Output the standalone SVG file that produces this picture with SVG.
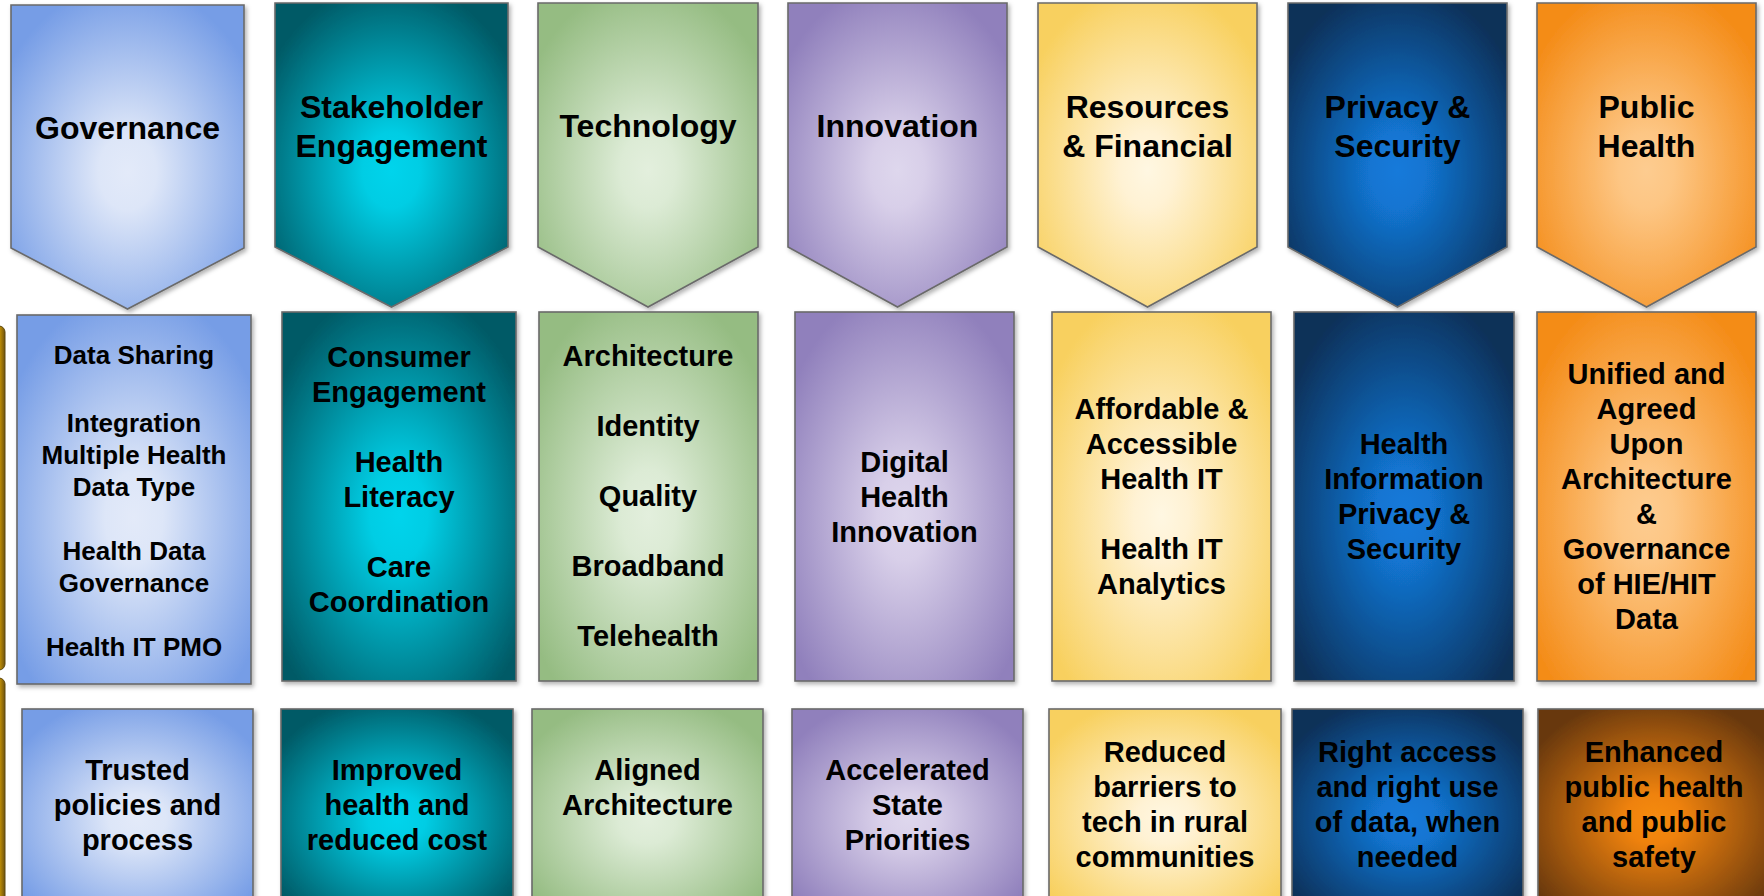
<svg xmlns="http://www.w3.org/2000/svg" width="1764" height="896" viewBox="0 0 1764 896">
<style>
.sh{stroke:#6a6a6a;stroke-width:1.6;filter:url(#shd)}
text{font-family:"Liberation Sans",Arial,sans-serif;font-weight:bold;fill:#000;text-anchor:middle}
.h{font-size:32px}
.t{font-size:29px}
.s{font-size:26px}
</style>
<defs>
<filter id="shd" x="-10%" y="-10%" width="125%" height="125%">
<feDropShadow dx="2" dy="2.5" stdDeviation="2" flood-color="#000" flood-opacity="0.3"/>
</filter>
<radialGradient id="gGov" cx="0.5" cy="0.55" r="0.62"><stop offset="0" stop-color="#e3eaf9"/><stop offset="0.2" stop-color="#dde6f8"/><stop offset="1" stop-color="#769de6"/></radialGradient>
<radialGradient id="gSta" cx="0.5" cy="0.55" r="0.62"><stop offset="0" stop-color="#00d4ec"/><stop offset="0.2" stop-color="#00cde4"/><stop offset="1" stop-color="#005a66"/></radialGradient>
<radialGradient id="gTec" cx="0.5" cy="0.55" r="0.62"><stop offset="0" stop-color="#e3efdd"/><stop offset="0.2" stop-color="#dcebd5"/><stop offset="1" stop-color="#95bc82"/></radialGradient>
<radialGradient id="gInn" cx="0.5" cy="0.55" r="0.62"><stop offset="0" stop-color="#ded7ed"/><stop offset="0.2" stop-color="#d8cfe9"/><stop offset="1" stop-color="#9080bc"/></radialGradient>
<radialGradient id="gRes" cx="0.5" cy="0.55" r="0.62"><stop offset="0" stop-color="#fff7e2"/><stop offset="0.2" stop-color="#fff2d4"/><stop offset="1" stop-color="#f8d05e"/></radialGradient>
<radialGradient id="gPri" cx="0.5" cy="0.55" r="0.62"><stop offset="0" stop-color="#157ada"/><stop offset="0.2" stop-color="#1275d2"/><stop offset="1" stop-color="#0b3058"/></radialGradient>
<radialGradient id="gPub" cx="0.5" cy="0.55" r="0.62"><stop offset="0" stop-color="#fdcc90"/><stop offset="0.2" stop-color="#fdc684"/><stop offset="1" stop-color="#f48c18"/></radialGradient>
<radialGradient id="gEnh" cx="0.5" cy="0.55" r="0.62"><stop offset="0" stop-color="#f58b12"/><stop offset="0.2" stop-color="#ef820f"/><stop offset="1" stop-color="#683808"/></radialGradient>
<linearGradient id="gGold" x1="0" y1="0" x2="1" y2="0"><stop offset="0" stop-color="#7a5a0c"/><stop offset="0.55" stop-color="#f2b400"/><stop offset="1" stop-color="#6e520e"/></linearGradient>
</defs>
<rect width="1764" height="896" fill="#fff"/>

<g id="side-bars">
<rect x="-14" y="326" width="19" height="344" rx="6" fill="url(#gGold)" stroke="#5e4a10" stroke-width="1"/>
<rect x="-14" y="678" width="19" height="240" rx="6" fill="url(#gGold)" stroke="#5e4a10" stroke-width="1"/>
</g>

<g id="connectors"></g>

<!-- Row 1 chevrons -->
<g id="hdr-governance">
<path class="sh" d="M11,5 H244 V248 L127.5,309 L11,248 Z" fill="url(#gGov)"/>
<text class="h" x="127.5" y="139">Governance</text>
</g>
<g id="hdr-stakeholder">
<path class="sh" d="M275,3 H508 V247 L391.5,307 L275,247 Z" fill="url(#gSta)"/>
<text class="h" x="391.5" y="118">Stakeholder</text>
<text class="h" x="391.5" y="157">Engagement</text>
</g>
<g id="hdr-technology">
<path class="sh" d="M538,3 H758 V247 L648,307 L538,247 Z" fill="url(#gTec)"/>
<text class="h" x="648" y="137">Technology</text>
</g>
<g id="hdr-innovation">
<path class="sh" d="M788,3 H1007 V247 L897.5,307 L788,247 Z" fill="url(#gInn)"/>
<text class="h" x="897.5" y="137">Innovation</text>
</g>
<g id="hdr-resources">
<path class="sh" d="M1038,3 H1257 V247 L1147.5,307 L1038,247 Z" fill="url(#gRes)"/>
<text class="h" x="1147.5" y="118">Resources</text>
<text class="h" x="1147.5" y="157">&amp; Financial</text>
</g>
<g id="hdr-privacy">
<path class="sh" d="M1288,3 H1507 V247 L1397.5,307 L1288,247 Z" fill="url(#gPri)"/>
<text class="h" x="1397.5" y="118">Privacy &amp;</text>
<text class="h" x="1397.5" y="157">Security</text>
</g>
<g id="hdr-public-health">
<path class="sh" d="M1537,3 H1756 V247 L1646.5,307 L1537,247 Z" fill="url(#gPub)"/>
<text class="h" x="1646.5" y="118">Public</text>
<text class="h" x="1646.5" y="157">Health</text>
</g>

<!-- Row 2 boxes -->
<g id="box-governance">
<rect class="sh" x="17" y="315" width="234" height="369" fill="url(#gGov)"/>
<text class="s" x="134" y="364">Data Sharing</text>
<text class="s" x="134" y="432">Integration</text>
<text class="s" x="134" y="464">Multiple Health</text>
<text class="s" x="134" y="496">Data Type</text>
<text class="s" x="134" y="560">Health Data</text>
<text class="s" x="134" y="592">Governance</text>
<text class="s" x="134" y="656">Health IT PMO</text>
</g>
<g id="box-stakeholder">
<rect class="sh" x="282" y="312" width="234" height="369" fill="url(#gSta)"/>
<text class="t" x="399" y="367">Consumer</text>
<text class="t" x="399" y="402">Engagement</text>
<text class="t" x="399" y="472">Health</text>
<text class="t" x="399" y="507">Literacy</text>
<text class="t" x="399" y="577">Care</text>
<text class="t" x="399" y="612">Coordination</text>
</g>
<g id="box-technology">
<rect class="sh" x="539" y="312" width="219" height="369" fill="url(#gTec)"/>
<text class="t" x="648" y="366">Architecture</text>
<text class="t" x="648" y="436">Identity</text>
<text class="t" x="648" y="506">Quality</text>
<text class="t" x="648" y="576">Broadband</text>
<text class="t" x="648" y="646">Telehealth</text>
</g>
<g id="box-innovation">
<rect class="sh" x="795" y="312" width="219" height="369" fill="url(#gInn)"/>
<text class="t" x="904.5" y="472">Digital</text>
<text class="t" x="904.5" y="507">Health</text>
<text class="t" x="904.5" y="542">Innovation</text>
</g>
<g id="box-resources">
<rect class="sh" x="1052" y="312" width="219" height="369" fill="url(#gRes)"/>
<text class="t" x="1161.5" y="419">Affordable &amp;</text>
<text class="t" x="1161.5" y="454">Accessible</text>
<text class="t" x="1161.5" y="489">Health IT</text>
<text class="t" x="1161.5" y="559">Health IT</text>
<text class="t" x="1161.5" y="594">Analytics</text>
</g>
<g id="box-privacy">
<rect class="sh" x="1294" y="312" width="220" height="369" fill="url(#gPri)"/>
<text class="t" x="1404" y="454">Health</text>
<text class="t" x="1404" y="489">Information</text>
<text class="t" x="1404" y="524">Privacy &amp;</text>
<text class="t" x="1404" y="559">Security</text>
</g>
<g id="box-public-health">
<rect class="sh" x="1537" y="312" width="219" height="369" fill="url(#gPub)"/>
<text class="t" x="1646.5" y="384">Unified and</text>
<text class="t" x="1646.5" y="419">Agreed</text>
<text class="t" x="1646.5" y="454">Upon</text>
<text class="t" x="1646.5" y="489">Architecture</text>
<text class="t" x="1646.5" y="524">&amp;</text>
<text class="t" x="1646.5" y="559">Governance</text>
<text class="t" x="1646.5" y="594">of HIE/HIT</text>
<text class="t" x="1646.5" y="629">Data</text>
</g>

<!-- Row 3 outcomes -->
<g id="out-trusted">
<rect class="sh" x="22" y="709" width="231" height="200" fill="url(#gGov)"/>
<text class="t" x="137.5" y="780">Trusted</text>
<text class="t" x="137.5" y="815">policies and</text>
<text class="t" x="137.5" y="850">process</text>
</g>
<g id="out-improved">
<rect class="sh" x="281" y="709" width="232" height="200" fill="url(#gSta)"/>
<text class="t" x="397" y="780">Improved</text>
<text class="t" x="397" y="815">health and</text>
<text class="t" x="397" y="850">reduced cost</text>
</g>
<g id="out-aligned">
<rect class="sh" x="532" y="709" width="231" height="200" fill="url(#gTec)"/>
<text class="t" x="647.5" y="780">Aligned</text>
<text class="t" x="647.5" y="815">Architecture</text>
</g>
<g id="out-accelerated">
<rect class="sh" x="792" y="709" width="231" height="200" fill="url(#gInn)"/>
<text class="t" x="907.5" y="780">Accelerated</text>
<text class="t" x="907.5" y="815">State</text>
<text class="t" x="907.5" y="850">Priorities</text>
</g>
<g id="out-reduced">
<rect class="sh" x="1049" y="709" width="232" height="200" fill="url(#gRes)"/>
<text class="t" x="1165" y="762">Reduced</text>
<text class="t" x="1165" y="797">barriers to</text>
<text class="t" x="1165" y="832">tech in rural</text>
<text class="t" x="1165" y="867">communities</text>
</g>
<g id="out-right-access">
<rect class="sh" x="1292" y="709" width="231" height="200" fill="url(#gPri)"/>
<text class="t" x="1407.5" y="762">Right access</text>
<text class="t" x="1407.5" y="797">and right use</text>
<text class="t" x="1407.5" y="832">of data, when</text>
<text class="t" x="1407.5" y="867">needed</text>
</g>
<g id="out-enhanced">
<rect class="sh" x="1538" y="709" width="232" height="200" fill="url(#gEnh)"/>
<text class="t" x="1654" y="762">Enhanced</text>
<text class="t" x="1654" y="797">public health</text>
<text class="t" x="1654" y="832">and public</text>
<text class="t" x="1654" y="867">safety</text>
</g>
</svg>
